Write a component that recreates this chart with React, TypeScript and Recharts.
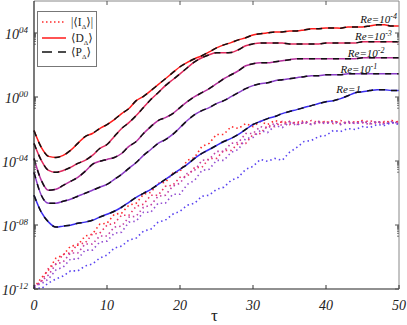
import { ComposedChart, Line, XAxis, YAxis, Legend, ReferenceDot } from 'recharts'

const SERIF = '"Liberation Serif", "Times New Roman", "DejaVu Serif", serif'

// time axis
const TAU = [
  0, 1, 2, 3, 4, 5, 6, 7, 8, 9, 10, 11, 12, 13, 14, 15, 16, 17, 18, 19, 20,
  21, 22, 23, 24, 25, 26, 27, 28, 29, 30, 31, 32, 33, 34, 35, 36, 37, 38, 39, 40,
  41, 42, 43, 44, 45, 46, 47, 48, 49, 50,
]

// log10 <D_Δ> per Re
const D_RE4 = [
  -2.10, -3.15, -3.71, -3.78, -3.65, -3.34, -2.90, -2.47, -2.28, -1.97, -1.72, -1.41, -1.04, -0.72, -0.23, 0.04,
  0.40, 0.77, 1.14, 1.52, 1.89, 2.16, 2.39, 2.58, 2.82, 3.07, 3.26, 3.40, 3.57, 3.70, 3.88, 3.95,
  4.01, 4.07, 4.07, 4.13, 4.13, 4.19, 4.26, 4.26, 4.32, 4.32, 4.30, 4.38, 4.38, 4.38, 4.44, 4.51,
  4.51, 4.44, 4.44,
]
const D_RE3 = [
  -2.90, -3.96, -4.59, -4.71, -4.59, -4.40, -4.15, -3.96, -3.65, -3.22, -2.97, -2.47, -1.97, -1.60, -1.16, -0.66,
  -0.16, 0.27, 0.71, 1.08, 1.45, 1.83, 2.20, 2.45, 2.64, 2.76, 2.76, 2.78, 2.95, 3.20, 3.32, 3.38,
  3.38, 3.38, 3.38, 3.32, 3.32, 3.32, 3.32, 3.32, 3.38, 3.38, 3.38, 3.38, 3.38, 3.45, 3.45, 3.45,
  3.45, 3.45, 3.45,
]
const D_RE2 = [
  -3.84, -5.21, -5.83, -5.77, -5.52, -5.27, -5.02, -4.65, -4.21, -4.02, -3.90, -3.78, -3.53, -3.09, -2.78, -2.28,
  -1.85, -1.47, -1.29, -1.04, -0.66, -0.29, 0.02, 0.27, 0.52, 0.83, 1.14, 1.39, 1.64, 1.95, 2.08, 2.14,
  2.14, 2.20, 2.26, 2.33, 2.39, 2.39, 2.39, 2.39, 2.39, 2.39, 2.39, 2.39, 2.39, 2.45, 2.45, 2.45,
  2.45, 2.45, 2.45,
]
const D_RE1 = [
  -4.71, -6.14, -6.64, -6.64, -6.52, -6.39, -6.20, -6.02, -5.83, -5.64, -5.46, -5.15, -4.83, -4.46, -4.09, -3.65,
  -3.28, -2.90, -2.66, -2.34, -1.91, -1.47, -1.10, -0.85, -0.66, -0.41, -0.23, 0.02, 0.27, 0.52, 0.71, 0.83,
  0.89, 1.02, 1.08, 1.14, 1.21, 1.27, 1.33, 1.33, 1.39, 1.39, 1.39, 1.45, 1.45, 1.45, 1.45, 1.45,
  1.45, 1.45, 1.45,
]
const D_RE0 = [
  -6.14, -7.20, -7.82, -8.13, -8.07, -8.01, -7.89, -7.82, -7.70, -7.51, -7.33, -7.14, -6.89, -6.58, -6.27, -6.02,
  -5.77, -5.46, -5.15, -4.83, -4.52, -4.21, -3.84, -3.53, -3.28, -3.03, -2.78, -2.59, -2.34, -2.03, -1.72, -1.53,
  -1.35, -1.22, -1.04, -0.91, -0.79, -0.66, -0.54, -0.41, -0.29, -0.23, -0.10, 0.08, 0.27, 0.33, 0.40, 0.46,
  0.46, 0.40, 0.40,
]
// <P_Δ> lies on top of <D_Δ> everywhere at this scale
const P_RE4 = D_RE4
const P_RE3 = D_RE3
const P_RE2 = D_RE2
const P_RE1 = D_RE1
const P_RE0 = D_RE0

// log10 |<I_Δ>| per Re (noisy, dotted)
const I_RE4 = [
  -11.93, -11.31, -10.81, -10.07, -9.88, -9.32, -9.26, -8.69, -8.57, -7.95, -7.89, -7.33, -7.26, -6.76, -6.64, -6.08,
  -5.96, -5.39, -5.33, -4.77, -4.65, -3.96, -3.78, -3.09, -2.90, -2.34, -2.34, -1.85, -1.97, -1.66, -1.85, -1.53,
  -1.72, -1.47, -1.60, -1.53, -1.66, -1.47, -1.72, -1.53, -1.60, -1.47, -1.66, -1.53, -1.60, -1.47, -1.66, -1.53,
  -1.60, -1.47, -1.60,
]
const I_RE3 = [
  -11.81, -11.56, -10.69, -10.44, -9.82, -9.75, -9.19, -9.13, -8.57, -8.51, -8.01, -7.89, -7.39, -7.39, -6.83, -6.70,
  -6.14, -6.14, -5.58, -5.52, -5.02, -4.96, -4.40, -4.40, -3.84, -3.84, -3.34, -3.34, -2.90, -2.90, -2.34, -2.28,
  -1.78, -1.85, -1.53, -1.72, -1.53, -1.66, -1.47, -1.60, -1.53, -1.66, -1.47, -1.66, -1.53, -1.60, -1.47, -1.66,
  -1.53, -1.60, -1.53,
]
const I_RE2 = [
  -11.93, -11.50, -11.12, -10.44, -10.31, -9.75, -9.75, -9.19, -9.19, -8.69, -8.69, -8.13, -8.07, -7.51, -7.45, -6.89,
  -6.76, -6.20, -6.14, -5.58, -5.39, -4.77, -4.59, -3.96, -3.90, -3.40, -3.40, -2.90, -2.84, -2.28, -2.28, -1.85,
  -1.97, -1.60, -1.78, -1.53, -1.72, -1.60, -1.72, -1.60, -1.66, -1.53, -1.72, -1.60, -1.66, -1.60, -1.72, -1.53,
  -1.66, -1.60, -1.66,
]
const I_RE1 = [
  -11.81, -11.68, -11.37, -10.81, -10.63, -10.13, -10.13, -9.57, -9.57, -9.07, -9.01, -8.51, -8.45, -7.82, -7.76, -7.20,
  -7.20, -6.64, -6.64, -6.08, -6.08, -5.46, -5.21, -4.59, -4.52, -3.96, -3.96, -3.46, -3.28, -2.59, -2.53, -2.09,
  -2.22, -1.78, -1.91, -1.60, -1.78, -1.53, -1.72, -1.53, -1.66, -1.53, -1.72, -1.53, -1.66, -1.53, -1.66, -1.53,
  -1.72, -1.53, -1.66,
]
const I_RE0 = [
  -11.87, -11.98, -11.62, -11.37, -11.19, -10.87, -10.87, -10.56, -10.44, -10.07, -9.88, -9.44, -9.32, -8.94, -8.82, -8.38,
  -8.26, -7.82, -7.70, -7.33, -7.14, -6.76, -6.64, -6.20, -6.14, -5.77, -5.64, -5.21, -5.02, -4.52, -4.34, -3.90,
  -4.02, -3.84, -3.96, -3.46, -3.15, -2.78, -2.72, -2.47, -2.41, -2.09, -2.16, -1.97, -2.03, -1.85, -1.91, -1.72,
  -1.78, -1.60, -1.72,
]

const SERIES = [
  { key: 're4', color: '#ff1a1a', dot: '#ff2a2a', D: D_RE4, P: P_RE4, I: I_RE4 },
  { key: 're3', color: '#e0285c', dot: '#ea3366', D: D_RE3, P: P_RE3, I: I_RE3 },
  { key: 're2', color: '#b5309c', dot: '#c03ea6', D: D_RE2, P: P_RE2, I: I_RE2 },
  { key: 're1', color: '#8a3cc8', dot: '#9450d2', D: D_RE1, P: P_RE1, I: I_RE1 },
  { key: 're0', color: '#3a2cf0', dot: '#5a44f0', D: D_RE0, P: P_RE0, I: I_RE0 },
]

// Re labels at the right end of the curves
const RE_EXP = ['-4', '-3', '-2', '-1', '']
const RE_LABEL_TAU = [47.2, 46.5, 45.5, 44.5, 43.1]
const RE_LABEL_LOG = [4.9, 3.84, 2.78, 1.78, 0.52]

const X_TICKS = [0, 10, 20, 30, 40, 50]
const X_TICKS_TOP = [10, 20, 30, 40]
const Y_MAJOR = [-12, -8, -4, 0, 4]
const Y_LABELS = ['-12', '-08', '-04', '00', '04']
const Y_TICKS = [
  ...Y_MAJOR,
  ...Y_MAJOR.flatMap(e => [2, 3, 4, 5, 6, 7, 8, 9].map(k => e - 1 + Math.log10(k))),
].filter(v => v >= -12)

const data = TAU.map((t, i) => {
  const row: any = { tau: t }
  SERIES.forEach(s => {
    row['D_' + s.key] = s.D[i]
    row['P_' + s.key] = s.P[i]
    row['I_' + s.key] = s.I[i]
  })
  return row
})

const XTickBottom = ({ x, y, payload }: any) => (
  <g>
    <line x1={x} x2={x} y1={y} y2={y - 4} stroke="#333" />
    <text x={x} y={y + 21} textAnchor="middle" fontFamily={SERIF} fontStyle="italic" fontSize={14} fill="#222">
      {payload.value}
    </text>
  </g>
)

const XTickTop = ({ x, y }: any) => <line x1={x} x2={x} y1={y} y2={y + 4} stroke="#555" />

const YTickLeft = ({ x, y, payload }: any) => {
  const idx = Y_MAJOR.indexOf(payload.value)
  if (idx < 0) return <line x1={x} x2={x + 2} y1={y} y2={y} stroke="#444" strokeWidth={0.8} />
  return (
    <g>
      <line x1={x} x2={x + 4} y1={y} y2={y} stroke="#333" />
      <text x={x - 6} y={y + 6} textAnchor="end" fontFamily={SERIF} fontStyle="italic" fontSize={14} fill="#222">
        10<tspan dy={-6} fontSize={9}>{Y_LABELS[idx]}</tspan>
      </text>
    </g>
  )
}

const YTickRight = ({ x, y, payload }: any) => {
  const major = Y_MAJOR.includes(payload.value)
  return <line x1={x} x2={x - (major ? 4 : 2)} y1={y} y2={y} stroke="#555" strokeWidth={major ? 1 : 0.8} />
}

const reLabel = (exp: string) => (props: any) => {
  const vb = props.viewBox || {}
  const cx = vb.x + (vb.width || 0) / 2
  const cy = vb.y + (vb.height || 0) / 2
  return (
    <text x={cx} y={cy + 4} textAnchor="middle" fontFamily={SERIF} fontStyle="italic" fontSize={11} fill="#111">
      {exp ? 'Re=10' : 'Re=1'}
      {exp && <tspan dy={-4} fontSize={8}>{exp}</tspan>}
    </text>
  )
}

const LegendBox = () => (
  <svg width={61} height={57} style={{ display: 'block' }}>
    <rect x={0.5} y={0.5} width={59} height={55} fill="#fff" stroke="#777" />
    <line x1={5} x2={29} y1={11} y2={11} stroke="#ff2a2a" strokeWidth={1.5} strokeDasharray="1.5 2.5" />
    <line x1={5} x2={29} y1={27} y2={27} stroke="#ff1a1a" strokeWidth={1.5} />
    <line x1={5} x2={29} y1={41} y2={41} stroke="#111" strokeWidth={1.5} strokeDasharray="10 6" />
    <g fontFamily={SERIF} fontSize={11.5} fill="#222">
      <text x={34} y={15}>|⟨I<tspan dy={3} fontSize={7}>Δ</tspan><tspan dy={-3}>⟩|</tspan></text>
      <text x={34} y={31}>⟨D<tspan dy={3} fontSize={7}>Δ</tspan><tspan dy={-3}>⟩</tspan></text>
      <text x={34} y={45}>⟨P<tspan dy={3} fontSize={7}>Δ</tspan><tspan dy={-3}>⟩</tspan></text>
    </g>
  </svg>
)

export default function App() {
  return (
    <div style={{ position: 'absolute', left: 0, top: 0, width: 407, height: 325, background: '#fff' }}>
      <ComposedChart width={407} height={325} data={data} margin={{ top: 0, right: 0, bottom: 0, left: 0 }}>
        <XAxis
          xAxisId="b" dataKey="tau" type="number" domain={[0, 50]} ticks={X_TICKS} interval={0}
          height={36} tickSize={0} tickMargin={0} tickLine={false}
          axisLine={{ stroke: '#222', strokeWidth: 1.2 }} tick={<XTickBottom />}
        />
        <XAxis
          xAxisId="t" orientation="top" dataKey="tau" type="number" domain={[0, 50]} ticks={X_TICKS_TOP}
          interval={0} height={1} tickSize={0} tickMargin={0} tickLine={false}
          axisLine={{ stroke: '#888' }} tick={<XTickTop />}
        />
        <YAxis
          yAxisId="l" type="number" domain={[-12, 6]} ticks={Y_TICKS} interval={0} allowDataOverflow
          width={34} tickSize={0} tickMargin={0} tickLine={false}
          axisLine={{ stroke: '#222', strokeWidth: 1.2 }} tick={<YTickLeft />}
        />
        <YAxis
          yAxisId="r" orientation="right" type="number" domain={[-12, 6]} ticks={Y_TICKS} interval={0}
          allowDataOverflow width={8} tickSize={0} tickMargin={0} tickLine={false}
          axisLine={{ stroke: '#888' }} tick={<YTickRight />}
        />
        <Legend
          layout="vertical" align="center" verticalAlign="middle"
          wrapperStyle={{ left: 37, top: 11, width: 61, height: 57 }}
          content={() => <LegendBox />}
        />
        {SERIES.map(s => (
          <Line
            key={'I' + s.key} xAxisId="b" yAxisId="l" dataKey={'I_' + s.key} type="linear"
            stroke={s.dot} strokeWidth={1.6} strokeDasharray="1.5 3" dot={false}
            isAnimationActive={false} legendType="none"
          />
        ))}
        {SERIES.map(s => (
          <Line
            key={'D' + s.key} xAxisId="b" yAxisId="l" dataKey={'D_' + s.key} type="monotone"
            stroke={s.color} strokeWidth={1.5} dot={false} isAnimationActive={false} legendType="none"
          />
        ))}
        {SERIES.map(s => (
          <Line
            key={'P' + s.key} xAxisId="b" yAxisId="l" dataKey={'P_' + s.key} type="monotone"
            stroke="#111" strokeWidth={1.5} strokeDasharray="6 6" dot={false}
            isAnimationActive={false} legendType="none"
          />
        ))}
        {RE_EXP.map((exp, i) => (
          <ReferenceDot
            key={'lbl' + i} xAxisId="b" yAxisId="l" x={RE_LABEL_TAU[i]} y={RE_LABEL_LOG[i]}
            r={0.01} fill="none" stroke="none" label={reLabel(exp)}
          />
        ))}
      </ComposedChart>
      <div
        style={{
          position: 'absolute', left: 211, top: 306, fontFamily: SERIF, fontSize: 17, color: '#222',
          lineHeight: '20px',
        }}
      >
        τ
      </div>
    </div>
  )
}
